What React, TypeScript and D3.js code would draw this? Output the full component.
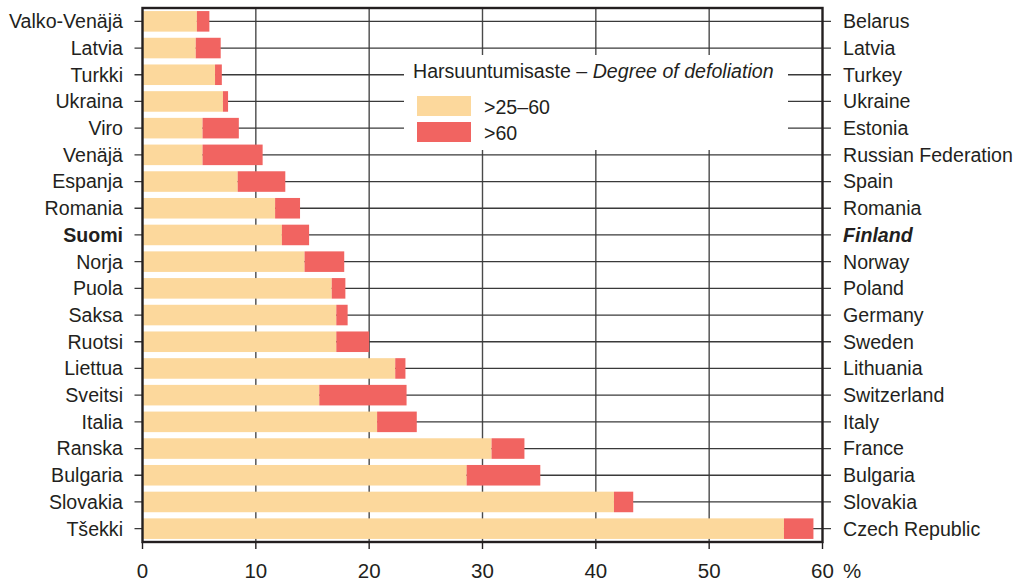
import React from 'react'
import { scaleLinear, scaleBand } from 'd3'

// Finnish / English country names, top to bottom
const namesFi = ['Valko-Venäjä', 'Latvia', 'Turkki', 'Ukraina', 'Viro', 'Venäjä', 'Espanja', 'Romania', 'Suomi', 'Norja', 'Puola', 'Saksa', 'Ruotsi', 'Liettua', 'Sveitsi', 'Italia', 'Ranska', 'Bulgaria', 'Slovakia', 'Tšekki']
const namesEn = ['Belarus', 'Latvia', 'Turkey', 'Ukraine', 'Estonia', 'Russian Federation', 'Spain', 'Romania', 'Finland', 'Norway', 'Poland', 'Germany', 'Sweden', 'Lithuania', 'Switzerland', 'Italy', 'France', 'Bulgaria', 'Slovakia', 'Czech Republic']

// share of trees (%) by defoliation class
const moderate = [4.8, 4.7, 6.4, 7.1, 5.3, 5.3, 8.4, 11.7, 12.3, 14.3, 16.7, 17.1, 17.1, 22.3, 15.6, 20.7, 30.8, 28.6, 41.6, 56.6]
const severe = [1.1, 2.2, 0.6, 0.45, 3.2, 5.3, 4.2, 2.2, 2.4, 3.5, 1.2, 1.0, 2.9, 0.9, 7.7, 3.5, 2.9, 6.5, 1.7, 2.6]

const xTicks = [0, 10, 20, 30, 40, 50, 60]
const legendLabels = ['>25–60', '>60']

const YELLOW = '#fcd89c'
const RED = '#f16461'
const INK = '#231f20'
const FONT = '"Liberation Sans", Arial, sans-serif'
const FS = 19.6

const W = 1027, H = 582
const left = 142.5, right = 822.5, top = 8, bottom = 542

export default function App () {
  const x = scaleLinear().domain([0, 60]).range([left, right])
  const y = scaleBand<string>().domain(namesFi).range([top, bottom])
    .paddingInner(0.23).paddingOuter(0.115)
  const bw = y.bandwidth()
  const cy = (n: string) => (y(n) as number) + bw / 2

  return (
    <svg width={W} height={H} style={{ position: 'absolute', left: 0, top: 0, fontFamily: FONT }}>
      <rect width={W} height={H} fill="#fff" />

      {/* vertical grid */}
      {xTicks.slice(1, -1).map(t => (
        <line key={'v' + t} x1={x(t)} x2={x(t)} y1={top} y2={bottom} stroke="#4a4a4a" strokeWidth={1.4} />
      ))}

      {/* row lines with ticks on both sides */}
      {namesFi.map(n => (
        <line key={'h' + n} x1={134.5} x2={831} y1={cy(n)} y2={cy(n)} stroke="#3a3a3a" strokeWidth={1.3} />
      ))}

      {/* bars */}
      {namesFi.map((n, i) => (
        <g key={'b' + n}>
          <rect x={x(0)} y={y(n)} width={x(moderate[i]) - x(0)} height={bw} fill={YELLOW} />
          <rect x={x(moderate[i])} y={y(n)} width={x(moderate[i] + severe[i]) - x(moderate[i])} height={bw} fill={RED} />
        </g>
      ))}

      {/* legend */}
      <rect x={404} y={55} width={384} height={95} fill="#fff" />
      <text x={413} y={78} fontSize={FS} fill={INK}>
        Harsuuntumisaste – <tspan fontStyle="italic">Degree of defoliation</tspan>
      </text>
      {[YELLOW, RED].map((c, i) => (
        <g key={'l' + i}>
          <rect x={417} y={96 + i * 26} width={54} height={20} fill={c} />
          <text x={484} y={114 + i * 26} fontSize={FS} fill={INK}>{legendLabels[i]}</text>
        </g>
      ))}

      {/* frame */}
      <rect x={left} y={top} width={right - left} height={bottom - top} fill="none" stroke={INK} strokeWidth={2.4} />

      {/* x axis ticks */}
      {xTicks.map(t => (
        <g key={'x' + t}>
          <line x1={x(t)} x2={x(t)} y1={bottom} y2={549} stroke={INK} strokeWidth={1.4} />
          <text x={x(t)} y={578} fontSize={20.5} textAnchor="middle" fill={INK}>{t}</text>
        </g>
      ))}
      <text x={843} y={578} fontSize={20.5} fill={INK}>%</text>

      {/* labels */}
      {namesFi.map((n, i) => (
        <text key={'fi' + n} x={123} y={cy(n)} dy="0.35em" fontSize={FS} textAnchor="end" fill={INK}
          fontWeight={n === 'Suomi' ? 'bold' : 'normal'}>{n}</text>
      ))}
      {namesEn.map((n, i) => (
        <text key={'en' + n} x={843} y={cy(namesFi[i])} dy="0.35em" fontSize={FS} fill={INK}
          fontWeight={n === 'Finland' ? 'bold' : 'normal'} fontStyle={n === 'Finland' ? 'italic' : 'normal'}>{n}</text>
      ))}
    </svg>
  )
}
